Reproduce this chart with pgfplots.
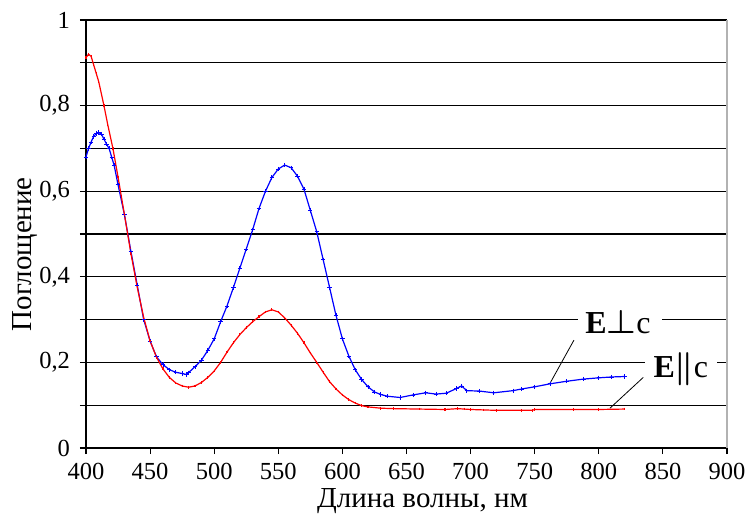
\documentclass[border=0pt]{standalone}
\usepackage{fontspec}
\setmainfont{Liberation Serif}
\usepackage{pgfplots}
\pgfplotsset{compat=1.18}

\begin{document}
\begin{tikzpicture}
\begin{axis}[
  scale only axis, width=480.75pt, height=321pt,
  xmin=400, xmax=900, ymin=0, ymax=1,
  xtick={400,450,...,900},
  ytick={0,0.2,0.4,0.6,0.8,1},
  minor ytick={0.1,0.3,0.5,0.7,0.9},
  ymajorgrids, yminorgrids,
  grid style={black, line width=0.8pt},
  minor grid style={black, line width=0.8pt},
  axis x line*=bottom, axis y line*=left,
  axis line style={black, line width=0.8pt, -},
  tick align=outside, major tick length=4.5pt, minor tick length=4.5pt,
  tick style={black, line width=0.8pt},
  xticklabel shift=3.5pt, yticklabel shift=4pt,
  /pgf/number format/use comma,
  /pgf/number format/assume math mode=true,
  tick label style={font=\fontsize{18.4}{20}\selectfont},
  xlabel={Длина волны, нм},
  xlabel style={at={(axis description cs:0.525,-0.138)}, anchor=base,
    font=\fontsize{21.75}{24}\selectfont},
  ylabel={Поглощение},
  ylabel style={at={(axis description cs:-0.0847,0.453)}, anchor=base,
    font=\fontsize{21.75}{24}\selectfont},
  clip=false,
]
% E perp c
\addplot[blue, line width=0.9pt, mark=+, mark size=1.6pt, mark options={line width=0.6pt}] coordinates {
(400,0.680) (402,0.700) (404,0.715) (406,0.728) (408,0.735) (410,0.737)
(412,0.733) (414,0.722) (416,0.710) (418,0.700) (420,0.680) (422,0.660)
(425,0.615) (430,0.545) (435,0.460) (440,0.380) (445,0.300) (450,0.250)
(455,0.213) (460,0.195) (465,0.183) (470,0.177) (475,0.174) (478,0.172)
(480,0.176) (485,0.190) (490,0.205) (495,0.228) (500,0.255) (505,0.295)
(510,0.332) (515,0.375) (520,0.420) (525,0.465) (530,0.510) (535,0.560)
(540,0.600) (545,0.632) (550,0.652) (555,0.661) (560,0.655) (565,0.635)
(570,0.605) (575,0.555) (580,0.505) (585,0.440) (590,0.375) (595,0.310)
(600,0.255) (605,0.215) (610,0.183) (615,0.160) (620,0.143) (625,0.131)
(630,0.125) (635,0.121) (645,0.118) (655,0.124) (665,0.129) (673,0.126)
(681,0.128) (689,0.139) (693,0.145) (697,0.134) (707,0.133) (718,0.129)
(733,0.134) (740,0.138) (750,0.143) (762,0.150) (775,0.156) (788,0.161)
(800,0.164) (810,0.166) (820,0.167)
};
% E par c
\addplot[red, line width=0.9pt, mark=|, mark size=1pt] coordinates {
(400,0.912) (402,0.920) (404,0.915) (406,0.895) (408,0.875) (410,0.855)
(414,0.800) (417,0.755) (421,0.700) (425,0.633) (430,0.545) (435,0.455)
(440,0.375) (445,0.305) (450,0.250) (455,0.212) (460,0.185) (465,0.165)
(470,0.152) (475,0.145) (480,0.142) (485,0.145) (490,0.153) (495,0.165)
(500,0.180) (505,0.200) (510,0.224) (515,0.246) (520,0.265) (525,0.281)
(530,0.295) (535,0.307) (540,0.318) (545,0.323) (550,0.318) (555,0.304)
(560,0.287) (565,0.268) (570,0.246) (575,0.222) (580,0.200) (585,0.177)
(590,0.155) (595,0.138) (600,0.124) (605,0.113) (610,0.105) (615,0.099)
(620,0.096) (630,0.093) (640,0.092) (660,0.091) (680,0.090) (690,0.092)
(695,0.091) (700,0.090) (710,0.089) (720,0.088) (740,0.088) (748,0.088)
(750,0.090) (780,0.090) (800,0.090) (820,0.091)
};
\draw[gray!60, line width=0.8pt] (axis cs:900,0) -- (axis cs:900,1);
\fill[white] (axis cs:783.8,0.26) rectangle (axis cs:849.3,0.325);
\fill[white] (axis cs:836,0.155) rectangle (axis cs:892,0.225);
\node[anchor=base west, inner sep=0pt, font=\fontsize{24}{26}\selectfont]
  at (axis cs:789.3,0.268) {\textbf{E}{\boldmath$\perp$}c};
\node[anchor=base west, inner sep=0pt, font=\fontsize{24}{26}\selectfont]
  at (axis cs:842.5,0.164) {\textbf{E}{\boldmath$\parallel$}c};
\draw[black, line width=0.6pt] (axis cs:780.6,0.252) -- (axis cs:761.9,0.151);
\draw[black, line width=0.6pt] (axis cs:834.7,0.165) -- (axis cs:808.7,0.093);
\end{axis}
\pgfresetboundingbox
\useasboundingbox ([shift={(-64.5pt,-50.25pt)}]current axis.south west)
  rectangle ([shift={(15.75pt,15pt)}]current axis.north east);
\end{tikzpicture}
\end{document}
